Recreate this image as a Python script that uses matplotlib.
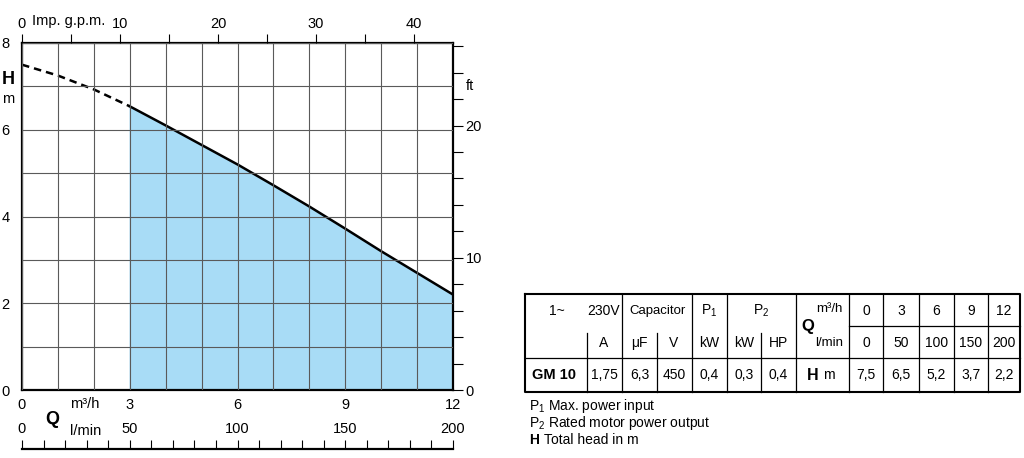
import numpy as np
import matplotlib
matplotlib.use("Agg")
import matplotlib.pyplot as plt
from matplotlib.ticker import MultipleLocator

plt.rcParams['font.family'] = ['Liberation Sans', 'DejaVu Sans']
plt.rcParams['mathtext.default'] = 'regular'
plt.rcParams['font.size'] = 10

# performance curve
q_curve = [0, 1, 2, 3, 4, 5, 6, 7, 8, 9, 10, 11, 12]
h_curve = [7.5, 7.25, 6.93, 6.54, 6.1, 5.65, 5.2, 4.72, 4.23, 3.72, 3.2, 2.7, 2.2]

# table values
q_m3h = ['0', '3', '6', '9', '12']
q_lmin = ['0', '50', '100', '150', '200']
h_m = ['7,5', '6,5', '5,2', '3,7', '2,2']
model = 'GM 10'
amps = '1,75'
cap_uf = '6,3'
cap_v = '450'
p1_kw = '0,4'
p2_kw = '0,3'
p2_hp = '0,4'

W, H = 1024, 458
fig = plt.figure(figsize=(W / 100, H / 100), dpi=100)

def fx(px):
    return px / W

def fy(py):
    return 1 - py / H

# main chart
x0, x1, y0, y1 = 22, 453, 43, 390
ax = fig.add_axes([fx(x0), fy(y1), fx(x1 - x0), (y1 - y0) / H])
ax.set_xlim(0, 12)
ax.set_ylim(0, 8)
ax.xaxis.set_major_locator(MultipleLocator(3))
ax.xaxis.set_minor_locator(MultipleLocator(1))
ax.yaxis.set_major_locator(MultipleLocator(2))
ax.yaxis.set_minor_locator(MultipleLocator(1))
ax.grid(True, which='both', color='#5a5a5a', lw=0.8)
ax.set_axisbelow(False)
ax.tick_params(which='both', length=0, labelsize=10.5)
ax.tick_params(axis='x', pad=6)
ax.tick_params(axis='y', pad=9)
for s in ax.spines.values():
    s.set_linewidth(1.6)

qc = np.array(q_curve)
hc = np.array(h_curve)
solid = qc >= 3
ax.fill_between(qc[solid], 0, hc[solid], color='#a8dcf6', zorder=0.5)
ax.plot(qc[solid], hc[solid], color='black', lw=1.8)
ax.plot(qc[qc <= 3], hc[qc <= 3], color='black', lw=1.8, ls=(0, (3, 2)))

# top axis, Imp. g.p.m.
gpm_per_m3h = 3.666
top = ax.twiny()
top.set_xlim(0, 12 * gpm_per_m3h)
top.xaxis.set_major_locator(MultipleLocator(10))
top.xaxis.set_minor_locator(MultipleLocator(5))
top.tick_params(which='both', direction='out', length=6.5, width=0.8, labelsize=10.5, pad=2)
for s in top.spines.values():
    s.set_visible(False)

# right axis, ft
right = ax.twinx()
right.set_ylim(0, 8 / 0.3048)
right.yaxis.set_major_locator(MultipleLocator(10))
right.yaxis.set_minor_locator(MultipleLocator(2))
right.tick_params(which='both', direction='out', length=7, width=0.8, labelsize=10.5, pad=2)
for s in right.spines.values():
    s.set_visible(False)

# l/min scale under the chart
lax = fig.add_axes([fx(x0), fy(449), fx(x1 - x0), 0.0001])
lax.set_xlim(0, 200)
lax.set_yticks([])
for k in ['left', 'right', 'bottom']:
    lax.spines[k].set_visible(False)
lax.spines['top'].set_linewidth(1.6)
lax.xaxis.tick_top()
lax.xaxis.set_major_locator(MultipleLocator(50))
lax.xaxis.set_minor_locator(MultipleLocator(10))
lax.tick_params(which='both', direction='out', length=6.5, width=0.8, labelsize=10.5, pad=2.5)
lax.tick_params(which='minor', labeltop=False)

# axis labels
fig.text(fx(8), fy(79), 'H', fontsize=13, fontweight='bold', ha='center', va='center')
fig.text(fx(8), fy(99), 'm', fontsize=10.5, ha='center', va='center')
fig.text(fx(69), fy(21), 'Imp. g.p.m.', fontsize=10.5, ha='center', va='center')
fig.text(fx(470), fy(86), 'ft', fontsize=10.5, ha='center', va='center')
fig.text(fx(85), fy(404), 'm³/h', fontsize=10.5, ha='center', va='center')
fig.text(fx(52), fy(420), 'Q', fontsize=13, fontweight='bold', ha='center', va='center')
fig.text(fx(86), fy(431), 'l/min', fontsize=10.5, ha='center', va='center')

# table
tax = fig.add_axes([0, 0, 1, 1])
tax.set_xlim(0, W)
tax.set_ylim(H, 0)
tax.axis('off')

cols = [525, 622, 692, 727, 796, 849, 883, 919, 954, 988, 1020]
rows = [294, 326, 358, 392]
lw_in = 0.9
lw_out = 1.5
tax.plot([cols[0], cols[-1], cols[-1], cols[0], cols[0]],
         [rows[0], rows[0], rows[-1], rows[-1], rows[0]], color='black', lw=lw_out)
for c in cols[1:-1]:
    tax.plot([c, c], [rows[0], rows[-1]], color='black', lw=lw_in)
tax.plot([cols[0], cols[-1]], [rows[2], rows[2]], color='black', lw=lw_in)
tax.plot([cols[5], cols[-1]], [rows[1], rows[1]], color='black', lw=lw_in)
for c in [587, 657, 761]:
    tax.plot([c, c], [333, rows[-1]], color='black', lw=lw_in)

r1, r2, r3 = 311, 343, 375
fs = 10
tax.text(557, r1, '1~', fontsize=fs, ha='center', va='center')
tax.text(604, r1, '230V', fontsize=fs, ha='center', va='center')
tax.text(657, r1, 'Capacitor', fontsize=9.5, ha='center', va='center')
tax.text(709, r1, 'P$_1$', fontsize=fs, ha='center', va='center')
tax.text(761, r1, 'P$_2$', fontsize=fs, ha='center', va='center')
tax.text(604, r2, 'A', fontsize=fs, ha='center', va='center')
tax.text(640, r2, '$\\mu$F', fontsize=fs, ha='center', va='center')
tax.text(674, r2, 'V', fontsize=fs, ha='center', va='center')
tax.text(709, r2, 'kW', fontsize=fs, ha='center', va='center')
tax.text(744, r2, 'kW', fontsize=fs, ha='center', va='center')
tax.text(778, r2, 'HP', fontsize=fs, ha='center', va='center')
tax.text(843, 309, 'm³/h', fontsize=9.5, ha='right', va='center')
tax.text(801, 327, 'Q', fontsize=12, fontweight='bold', ha='left', va='center')
tax.text(843, 343, 'l/min', fontsize=9.5, ha='right', va='center')
tax.text(554, r3, model, fontsize=fs + 0.5, fontweight='bold', ha='center', va='center')
row3 = [amps, cap_uf, cap_v, p1_kw, p2_kw, p2_hp]
row3_x = [604, 640, 674, 709, 744, 778]
for v, x in zip(row3, row3_x):
    tax.text(x, r3, v, fontsize=fs, ha='center', va='center')
tax.text(819, r3, 'H', fontsize=11.5, fontweight='bold', ha='right', va='center')
tax.text(823, r3, 'm', fontsize=fs, ha='left', va='center')
for i in range(5):
    xc = (cols[5 + i] + cols[6 + i]) / 2
    tax.text(xc, r1, q_m3h[i], fontsize=fs, ha='center', va='center')
    tax.text(xc, r2, q_lmin[i], fontsize=fs, ha='center', va='center')
    tax.text(xc, r3, h_m[i], fontsize=fs, ha='center', va='center')

# notes under the table
tax.text(529, 406, 'P$_1$ Max. power input', fontsize=fs, ha='left', va='center')
tax.text(529, 423, 'P$_2$ Rated motor power output', fontsize=fs, ha='left', va='center')
tax.text(529, 440, 'H', fontsize=fs, fontweight='bold', ha='left', va='center')
tax.text(544, 440, 'Total head in m', fontsize=fs, ha='left', va='center')

fig.savefig('out.png', dpi=100)
